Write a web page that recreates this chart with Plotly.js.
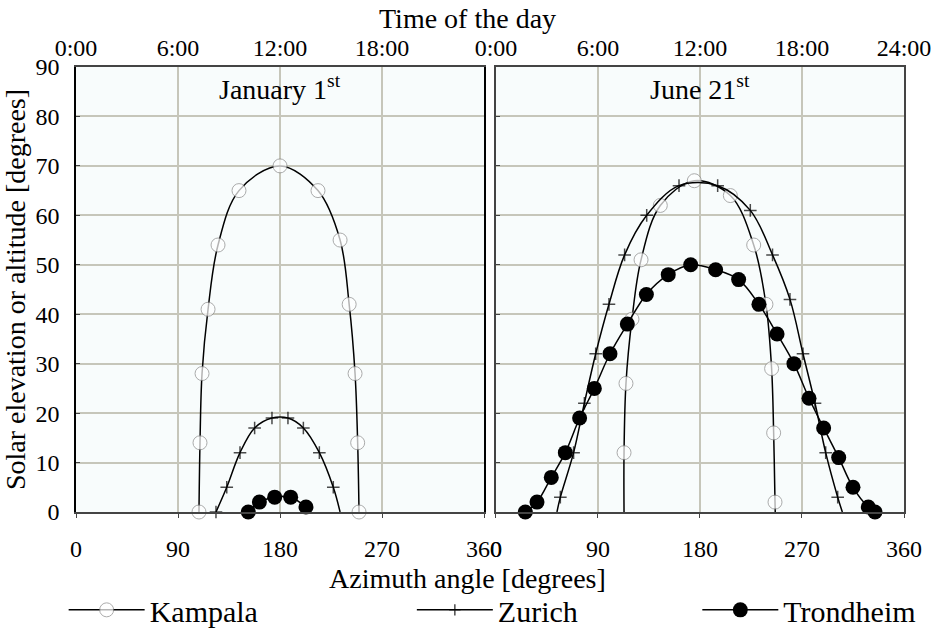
<!DOCTYPE html>
<html><head><meta charset="utf-8">
<script src="https://cdn.plot.ly/plotly-3.0.1.min.js"></script>
<style>html,body{margin:0;padding:0;background:#fff}#chart{width:936px;height:630px}</style>
</head><body><div id="chart"></div>
<script>
// ---- data (azimuth in degrees, elevation in degrees) ----
const janKampalaAz = [108.5, 109.4, 111.2, 116.5, 125.3, 143.8, 180, 213.5, 233, 241, 246.2, 248.5, 249.7];
const janKampalaEl = [0, 14, 28, 41, 54, 65, 70, 65, 55, 42, 28, 14, 0];
const janZurichAz = [123.5, 133, 144.7, 157.6, 172.9, 187, 200.6, 214.7, 227, 233];
const janZurichEl = [0, 5, 12, 17, 19, 19, 17, 12, 5, 0];
const janTrondheimAz = [152, 161.8, 175.3, 189.4, 202.9];
const janTrondheimEl = [0, 2, 3, 3, 1];

const junKampalaAz = [113, 113, 114.7, 120, 128, 145, 175, 206.8, 227.4, 238.2, 243.2, 245, 246.2, 246.4];
const junKampalaEl = [0, 12, 26, 39, 51, 62, 67, 64, 54, 42, 29, 16, 2, 0];
const junZurichAz = [53.8, 56.8, 68.5, 78, 88, 99.7, 113.5, 133, 161.5, 195.6, 224.4, 244, 259.4, 270.9, 281.5, 290.9, 301.5, 305.6];
const junZurichEl = [0, 3, 12, 22, 32, 42, 52, 60, 66, 66, 61, 52, 43, 32, 22, 12, 3, 0];
const junTrondheimAz = [25.9, 36.2, 48.8, 61.2, 73.8, 86.8, 100.6, 115.9, 132.7, 152, 171.8, 193.8, 214.1, 232, 248, 262.9, 276.2, 289.1, 302.4, 315, 328.5, 334.4];
const junTrondheimEl = [0, 2, 7, 12, 19, 25, 32, 38, 44, 48, 50, 49, 47, 42, 36, 30, 23, 17, 11, 5, 1, 0];

const azimuthTicks = [0, 90, 180, 270, 360];
const timeTickValsLeft = [0, 90, 180, 270];
const timeTicksLeft = ["0:00", "6:00", "12:00", "18:00"];
const timeTicksRight = ["0:00", "6:00", "12:00", "18:00", "24:00"];
const elevationTicks = [0, 10, 20, 30, 40, 50, 60, 70, 80, 90];

// ---- styles ----
const FONT = "Liberation Serif, Times New Roman, serif";
const lineStyle = {color: "#000", width: 1.5, shape: "spline", smoothing: 1};
function sizes(n, s, hideFirst, hideLast) {
  const a = new Array(n).fill(s);
  if (hideFirst) a[0] = 0;
  if (hideLast) a[n - 1] = 0;
  return a;
}
const kampalaMarker = (n, hideEnds) => ({symbol: "circle", size: sizes(n, 14, hideEnds, hideEnds), color: "#fff", line: {color: "#8a8a8a", width: 1}});
const zurichMarker = (n, hideFirst, hideLast) => ({symbol: "cross-thin", size: sizes(n, 9, hideFirst, hideLast), color: "#000", line: {color: "#000", width: 1.5}});
const trondMarker = {symbol: "circle", size: 15, color: "#000", line: {color: "#000", width: 0}};

const traces = [
  {x: janKampalaAz, y: janKampalaEl, xaxis: "x", yaxis: "y", mode: "lines+markers", line: lineStyle,
   marker: kampalaMarker(janKampalaAz.length, false), name: "Kampala", legend: "legend", cliponaxis: false},
  {x: janZurichAz, y: janZurichEl, xaxis: "x", yaxis: "y", mode: "lines+markers", line: lineStyle,
   marker: zurichMarker(janZurichAz.length, false, true), name: "Zurich", legend: "legend2", cliponaxis: false},
  {x: janTrondheimAz, y: janTrondheimEl, xaxis: "x3", yaxis: "y", mode: "lines+markers", line: lineStyle,
   marker: trondMarker, name: "Trondheim", legend: "legend3", cliponaxis: false},
  {x: junKampalaAz, y: junKampalaEl, xaxis: "x2", yaxis: "y2", mode: "lines+markers", line: lineStyle,
   marker: kampalaMarker(junKampalaAz.length, true), name: "Kampala", showlegend: false, cliponaxis: false},
  {x: junZurichAz, y: junZurichEl, xaxis: "x2", yaxis: "y2", mode: "lines+markers", line: lineStyle,
   marker: zurichMarker(junZurichAz.length, true, true), name: "Zurich", showlegend: false, cliponaxis: false},
  {x: junTrondheimAz, y: junTrondheimEl, xaxis: "x4", yaxis: "y2", mode: "lines+markers", line: lineStyle,
   marker: trondMarker, name: "Trondheim", showlegend: false, cliponaxis: false}
];

const gridColor = "#c6c6ba";
const frameColor = "#444";
const tickFont = {family: FONT, size: 24, color: "#000"};
const baseX = {
  range: [0, 360], tickvals: azimuthTicks, ticktext: azimuthTicks.map(String),
  showgrid: true, gridcolor: gridColor, gridwidth: 1.5, zeroline: false,
  showline: true, linecolor: frameColor, linewidth: 1.5, mirror: false, automargin: false,
  ticks: "outside", ticklen: 4, tickcolor: frameColor, tickfont: tickFont, ticklabelstandoff: 10
};
const baseTop = {
  side: "top", range: [0, 360], showgrid: false, zeroline: false, showline: true,
  linecolor: frameColor, linewidth: 1.5, ticks: "", tickfont: tickFont, automargin: false, ticklabelstandoff: 0
};
const baseY = {
  range: [0, 90], tickvals: elevationTicks, showgrid: true, gridcolor: gridColor, gridwidth: 1.5,
  zeroline: false, showline: true, linecolor: frameColor, linewidth: 1.5, mirror: true, automargin: false,
  ticks: "inside", ticklen: 4, tickcolor: frameColor, tickfont: tickFont, ticklabelstandoff: 10
};
const legendBase = {orientation: "h", xref: "container", yref: "container", xanchor: "left", yanchor: "middle",
  y: 0.032, font: {family: FONT, size: 30, color: "#000"}, bgcolor: "rgba(0,0,0,0)", itemwidth: 76};

const layout = {
  width: 936, height: 630,
  margin: {l: 76, r: 32, t: 67, b: 118},
  paper_bgcolor: "#fff", plot_bgcolor: "#f8fcfc",
  font: {family: FONT, color: "#000"},
  xaxis: Object.assign({}, baseX, {domain: [0, 0.4928], anchor: "y"}),
  xaxis2: Object.assign({}, baseX, {domain: [0.5072, 1], anchor: "y2"}),
  xaxis3: Object.assign({}, baseTop, {overlaying: "x", anchor: "y", tickvals: timeTickValsLeft, ticktext: timeTicksLeft}),
  xaxis4: Object.assign({}, baseTop, {overlaying: "x2", anchor: "y2", tickvals: azimuthTicks, ticktext: timeTicksRight}),
  yaxis: Object.assign({}, baseY, {anchor: "x", linecolor: "#000",
    title: {text: "Solar elevation or altitude [degrees]", font: {family: FONT, size: 28, color: "#000"}}}),
  yaxis2: Object.assign({}, baseY, {anchor: "x2", showticklabels: false}),
  showlegend: true,
  legend: Object.assign({}, legendBase, {x: 0.068}),
  legend2: Object.assign({}, legendBase, {x: 0.440}),
  legend3: Object.assign({}, legendBase, {x: 0.745}),
  annotations: [
    {text: "Time of the day", xref: "paper", yref: "paper", x: 0.473, y: 1.0, yshift: 49, showarrow: false,
      font: {family: FONT, size: 28, color: "#000"}, xanchor: "center", yanchor: "middle"},
    {text: "Azimuth angle [degrees]", xref: "paper", yref: "paper", x: 0.473, y: 0, yshift: -66, showarrow: false,
      font: {family: FONT, size: 28, color: "#000"}, xanchor: "center", yanchor: "middle"},
    {text: "January 1<sup>st</sup>", xref: "x", yref: "paper", x: 180, y: 1, yshift: -20, showarrow: false,
      font: {family: FONT, size: 28, color: "#000"}, xanchor: "center", yanchor: "middle"},
    {text: "June 21<sup>st</sup>", xref: "x2", yref: "paper", x: 180, y: 1, yshift: -20, showarrow: false,
      font: {family: FONT, size: 28, color: "#000"}, xanchor: "center", yanchor: "middle"}
  ]
};

Plotly.newPlot("chart", traces, layout, {displayModeBar: false, responsive: false});
</script>
</body></html>
